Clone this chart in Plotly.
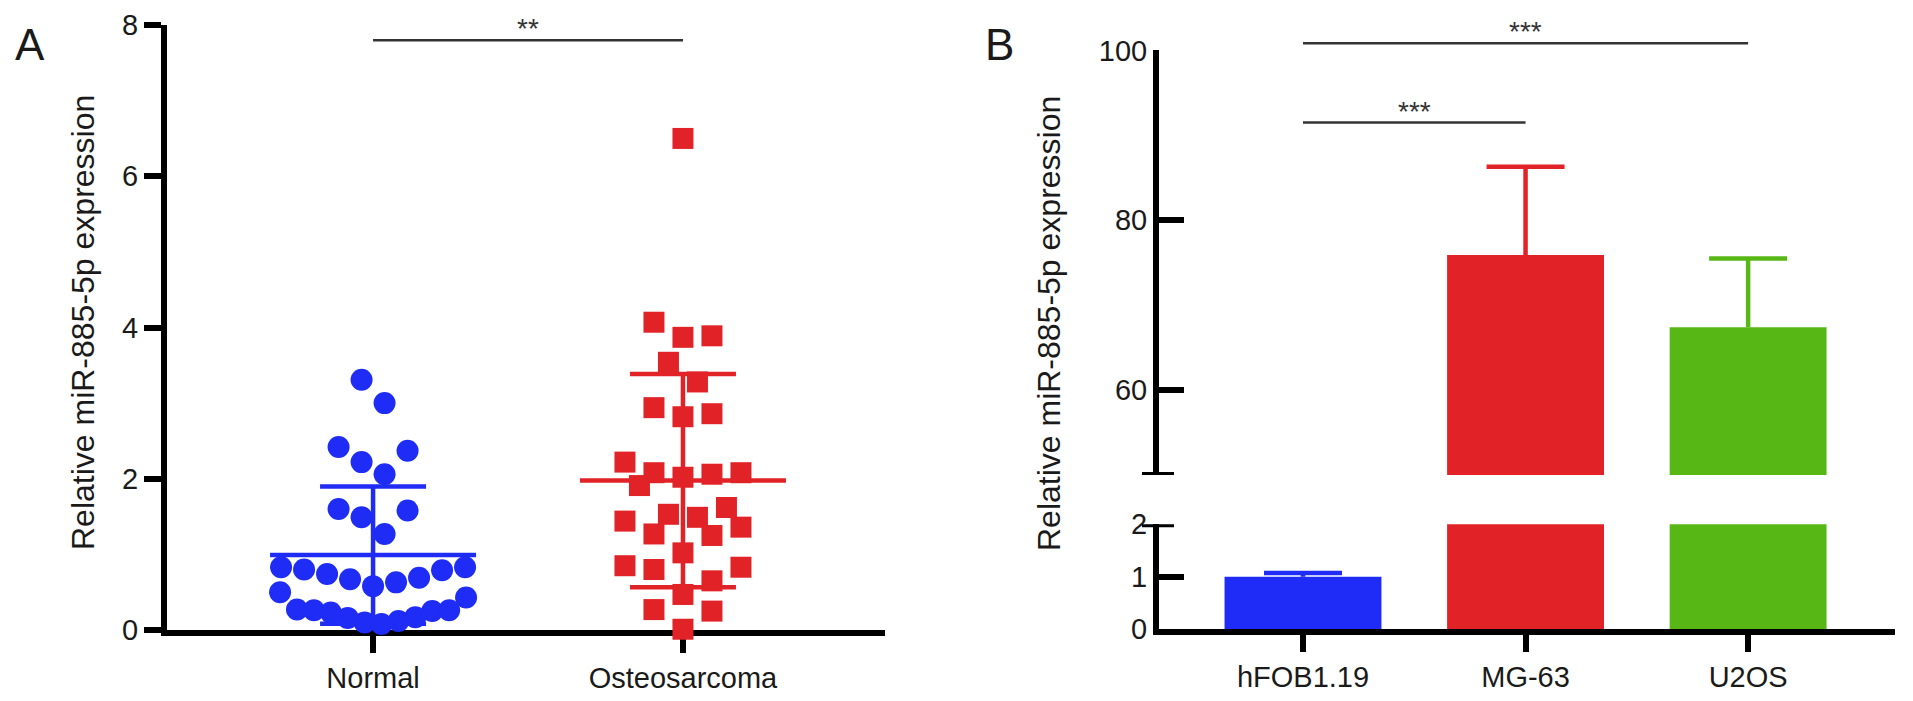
import numpy as np
import plotly.graph_objects as go

# ---------------- DATA ----------------
groups_A = ["Normal", "Osteosarcoma"]
normal_vals = [3.31, 3.00, 2.42, 2.37, 2.22, 2.06, 1.58, 1.60, 1.49, 1.27,
               0.83, 0.79, 0.69, 0.63, 0.58, 0.67, 0.74, 0.80, 0.83, 0.50, 0.43,
               0.27, 0.23, 0.17, 0.12, 0.08, 0.10, 0.16, 0.25, 0.26, 0.26]
osteo_vals = [6.50, 4.07, 3.87, 3.89, 3.54, 3.28, 2.94, 2.82, 2.86,
              2.22, 2.06, 2.02, 1.91, 2.08, 2.08, 1.62, 1.49, 1.36, 1.53,
              1.25, 1.27, 1.02, 1.44, 0.85, 0.80, 0.83, 0.65, 0.47, 0.27, 0.25, 0.01]
sig_A = [(0, 1, "**", 7.8)]

cells_B = ["hFOB1.19", "MG-63", "U2OS"]
mean_B = [1.0, 75.9, 67.4]
sd_B = [0.07, 10.4, 8.1]
sig_B = [(0, 2, "***", 100.84), (0, 1, "***", 91.5)]

yticks_A = [0, 2, 4, 6, 8]
yticks_B_low = [0, 1, 2]
yticks_B_up = [60, 80, 100]

# ---------------- STYLE / LAYOUT ----------------
W, H = 1913, 701
FONT = "Liberation Sans, Arial, Helvetica, sans-serif"
BLUE = "#1f2cf5"
RED = "#e12328"
BAR_COLORS = ["#1f2cf7", "#e12328", "#57b815"]


def fx(p):
    return p / W


def fy(p):
    return 1 - p / H


A_x0, A_x1 = 167, 885
A_y0, A_y1 = 630, 25
A_xrange = [-0.665, 1.652]
A_yrange = [0, 8]
B_x0, B_x1 = 1159, 1895
B_low = (629, 524.3)
B_up = (475, 50.4)
B_xrange = [-0.647, 2.66]
B_lowrange = [0, 2]
B_uprange = [50, 100]

A_px_per_x = (A_x1 - A_x0) / (A_xrange[1] - A_xrange[0])
B_px_per_x = (B_x1 - B_x0) / (B_xrange[1] - B_xrange[0])


def swarm_offsets(values, band_h, spacing_px, max_half_px, px_per_unit):
    """Simple beeswarm: bin values into horizontal bands and spread each band."""
    vals = np.asarray(values, dtype=float)
    order = np.argsort(vals, kind="stable")
    offs = np.zeros(len(vals))
    i = 0
    while i < len(order):
        start = vals[order[i]]
        j = i
        while j < len(order) and vals[order[j]] < start + band_h:
            j += 1
        band = order[i:j]
        n = len(band)
        sp = spacing_px if n < 2 else min(spacing_px, 2 * max_half_px / (n - 1))
        for k, idx in enumerate(band):
            if n % 2 == 1:
                if k == 0:
                    slot = 0
                else:
                    m = (k + 1) // 2
                    slot = m if k % 2 == 1 else -m
            else:
                m = k // 2 + 0.5
                slot = m if k % 2 == 0 else -m
            offs[idx] = slot * sp / px_per_unit
        i = j
    return offs


fig = go.Figure()

# ---- Panel A: dot plot with mean +/- SD ----
series_A = [(normal_vals, BLUE, "circle", 22, 23, 93),
            (osteo_vals, RED, "square", 21, 29, 88)]
mean_half = 103 / A_px_per_x
cap_half = 53 / A_px_per_x
for gi, (vals, col, sym, msize, sp, mh) in enumerate(series_A):
    offs = swarm_offsets(vals, 0.45, sp, mh, A_px_per_x)
    fig.add_trace(go.Scatter(
        x=gi + offs, y=vals, mode="markers", xaxis="x", yaxis="y",
        marker=dict(symbol=sym, size=msize, color=col, line=dict(width=0)),
        cliponaxis=False, showlegend=False, hoverinfo="y"))
    m = float(np.mean(vals))
    s = float(np.std(vals, ddof=1))
    lx = [gi - mean_half, gi + mean_half, None, gi, gi, None,
          gi - cap_half, gi + cap_half, None, gi - cap_half, gi + cap_half]
    ly = [m, m, None, m - s, m + s, None, m + s, m + s, None, m - s, m - s]
    fig.add_trace(go.Scatter(
        x=lx, y=ly, mode="lines", xaxis="x", yaxis="y",
        line=dict(color=col, width=4.5), cliponaxis=False,
        showlegend=False, hoverinfo="skip"))

# ---- Panel B: broken-axis bars ----
xb = list(range(len(cells_B)))
err_half = 39 / B_px_per_x
for xa, ya in [("x2", "y2"), ("x3", "y3")]:
    fig.add_trace(go.Bar(
        x=xb, y=mean_B, xaxis=xa, yaxis=ya, width=0.705,
        marker=dict(color=BAR_COLORS, line=dict(width=0)),
        showlegend=False))
    for i in xb:
        top = mean_B[i] + sd_B[i]
        fig.add_trace(go.Scatter(
            x=[i, i, None, i - err_half, i + err_half],
            y=[mean_B[i], top, None, top, top],
            mode="lines", xaxis=xa, yaxis=ya,
            line=dict(color=BAR_COLORS[i], width=4.5),
            showlegend=False, hoverinfo="skip"))

axis_common = dict(showgrid=False, zeroline=False, showline=True,
                   linecolor="black", linewidth=6, tickcolor="black",
                   tickwidth=6, tickfont=dict(family=FONT, size=29, color="#1a1a1a"),
                   fixedrange=True, automargin=False)

fig.update_layout(
    width=W, height=H, autosize=False,
    margin=dict(l=0, r=0, t=0, b=0, pad=0, autoexpand=False),
    paper_bgcolor="white", plot_bgcolor="white",
    font=dict(family=FONT, color="#1a1a1a"),
    xaxis=dict(domain=[fx(A_x0), fx(A_x1)], range=A_xrange, anchor="y",
               tickvals=[0, 1], ticktext=groups_A, ticks="outside", ticklen=17,
               layer="below traces", **axis_common),
    yaxis=dict(domain=[fy(A_y0), fy(A_y1)], range=A_yrange, anchor="x",
               tickvals=yticks_A, ticks="outside", ticklen=17,
               layer="below traces", **axis_common),
    xaxis2=dict(domain=[fx(B_x0), fx(B_x1)], range=B_xrange, anchor="y2",
                tickvals=xb, ticktext=cells_B, ticks="outside", ticklen=17,
                **axis_common),
    yaxis2=dict(domain=[fy(B_low[0]), fy(B_low[1])], range=B_lowrange,
                anchor="x2", tickvals=yticks_B_low, ticks="inside", ticklen=25,
                **axis_common),
    xaxis3=dict(domain=[fx(B_x0), fx(B_x1)], range=B_xrange, anchor="y3",
                matches="x2", visible=False),
    yaxis3=dict(domain=[fy(B_up[0]), fy(B_up[1])], range=B_uprange,
                anchor="x3", tickvals=yticks_B_up, ticks="inside", ticklen=25,
                **axis_common),
)

shapes = []
annotations = []
# axis-break caps on panel B
for yref, val in [("y2", B_lowrange[1]), ("y3", B_uprange[0])]:
    shapes.append(dict(type="line", xref="paper", yref=yref,
                       x0=fx(B_x0 - 17), x1=fx(B_x0 + 15), y0=val, y1=val,
                       line=dict(color="black", width=6)))

for a, b, txt, h in sig_A:
    shapes.append(dict(type="line", xref="x", yref="y", x0=a, x1=b, y0=h, y1=h,
                       line=dict(color="#333333", width=2.5)))
    annotations.append(dict(x=(a + b) / 2, y=h, xref="x", yref="y", text=txt,
                            showarrow=False, xanchor="center", yanchor="bottom",
                            yshift=-6,
                            font=dict(family=FONT, size=28, color="#333333")))

d0, d1 = fy(B_up[0]), fy(B_up[1])


def up_to_paper(v):
    return d0 + (v - B_uprange[0]) / (B_uprange[1] - B_uprange[0]) * (d1 - d0)


for a, b, txt, h in sig_B:
    yp = up_to_paper(h)
    shapes.append(dict(type="line", xref="x2", yref="paper", x0=a, x1=b,
                       y0=yp, y1=yp, line=dict(color="#333333", width=2.5)))
    annotations.append(dict(x=(a + b) / 2, y=yp, xref="x2", yref="paper",
                            text=txt, showarrow=False, xanchor="center",
                            yanchor="bottom", yshift=-6,
                            font=dict(family=FONT, size=28, color="#333333")))

ytitle = "Relative miR-885-5p expression"
for xp, ypx in [(83, 323), (1049, 324)]:
    annotations.append(dict(x=fx(xp), y=fy(ypx), xref="paper", yref="paper",
                            text=ytitle, textangle=-90, showarrow=False,
                            xanchor="center", yanchor="middle",
                            font=dict(family=FONT, size=32, color="#1a1a1a")))
for xp, lab in [(30, "A"), (999, "B")]:
    annotations.append(dict(x=fx(xp), y=fy(45), xref="paper", yref="paper",
                            text=lab, showarrow=False,
                            xanchor="center", yanchor="middle",
                            font=dict(family=FONT, size=44, color="#1a1a1a")))

fig.update_layout(shapes=shapes, annotations=annotations)
fig.write_html(
    "out.html",
    config={"displayModeBar": False},
    post_script="document.body.style.margin='0';"
                "document.body.style.overflow='hidden';")
